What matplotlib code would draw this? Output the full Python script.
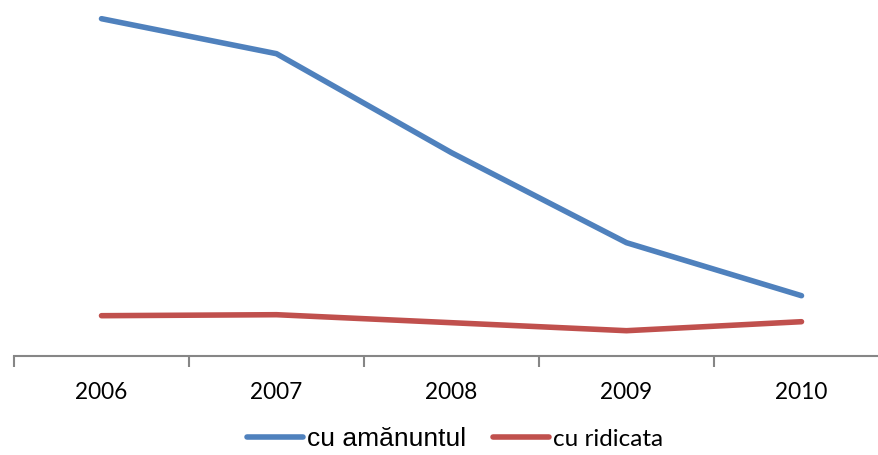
import matplotlib
matplotlib.use("Agg")
import matplotlib.pyplot as plt
import numpy as np

years = ["2006", "2007", "2008", "2009", "2010"]
retail = [337, 302, 203, 113, 60]      # cu amănuntul
wholesale = [40, 41, 33, 25, 34]       # cu ridicata

fig = plt.figure(figsize=(8.79, 4.55), dpi=100)
ax = fig.add_axes([14 / 879, 99.3 / 455, 875 / 879, 355.7 / 455])

x = np.arange(len(years))
l1, = ax.plot(x, retail, color="#4F81BD", linewidth=4, solid_capstyle="round")
l2, = ax.plot(x, wholesale, color="#C0504D", linewidth=4, solid_capstyle="round")

ax.set_xlim(-0.5, len(years) - 0.5)
ax.set_ylim(0, 355.7)

for s in ["top", "right", "left"]:
    ax.spines[s].set_visible(False)
ax.spines["bottom"].set_color("#868686")
ax.spines["bottom"].set_linewidth(1.5)
ax.set_yticks([])

ax.set_xticks(x)
ax.set_xticklabels(years, fontsize=16.3, family="Lato")
ax.tick_params(axis="x", which="major", length=0, pad=19)
ax.set_xticks(np.arange(-0.5, len(years)), minor=True)
ax.tick_params(axis="x", which="minor", length=8, width=1.5, color="#868686", direction="out")

leg = fig.legend([l1, l2], ["cu amănuntul", "cu ridicata"], loc="center",
                 bbox_to_anchor=(455 / 879, 1 - 439 / 455), ncol=2, frameon=False,
                 handlelength=2.1, handletextpad=0.15, columnspacing=1.05, fontsize=19,
                 borderpad=0)
leg.get_texts()[0].set_family("Liberation Sans")
leg.get_texts()[1].set_family("Lato")
leg.get_texts()[1].set_fontsize(17.5)

fig.savefig("out.png", dpi=100)
